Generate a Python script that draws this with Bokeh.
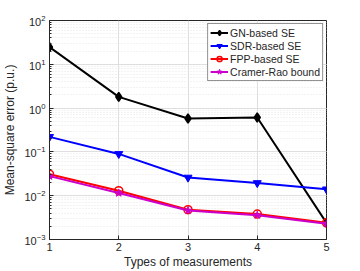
from bokeh.plotting import figure
from bokeh.models import FixedTicker, Legend, LegendItem
from bokeh.embed import file_html
from bokeh.resources import INLINE

x = [1, 2, 3, 4, 5]
gn = [24.6, 1.8, 0.58, 0.61, 0.0024]
sdr = [0.22, 0.09, 0.026, 0.0195, 0.014]
fpp = [0.031, 0.013, 0.0048, 0.0038, 0.0024]
crb = [0.028, 0.0115, 0.0046, 0.0036, 0.0023]
names = ["GN-based SE", "SDR-based SE", "FPP-based SE", "Cramer-Rao bound"]

FONT = "Liberation Sans"

p = figure(width=360, height=271, y_axis_type="log", x_range=(1, 5), y_range=(1e-3, 1e2),
           output_backend="svg", toolbar_location=None,
           min_border_left=47, min_border_right=34, min_border_top=20, min_border_bottom=31)
p.background_fill_color = "white"
p.outline_line_color = "#262626"
p.outline_line_width = 1

p.xaxis.ticker = FixedTicker(ticks=x)
p.xaxis.axis_label = "Types of measurements"
p.yaxis.axis_label = "Mean-square error (p.u.)"
for ax in [p.xaxis[0], p.yaxis[0]]:
    ax.axis_label_text_font = FONT
    ax.axis_label_text_font_style = "normal"
    ax.axis_label_text_font_size = "12px"
    ax.major_label_text_font = FONT
    ax.major_label_text_font_size = "11px"
    ax.major_label_text_color = "#262626"
    ax.axis_label_text_color = "#262626"
    ax.axis_line_color = "#262626"
    ax.major_tick_in = 4
    ax.major_tick_out = 0
    ax.minor_tick_in = 2
    ax.minor_tick_out = 0
    ax.major_tick_line_color = "#262626"
    ax.minor_tick_line_color = "#262626"
p.xaxis.axis_label_standoff = 1
p.yaxis.axis_label_standoff = 4
p.xaxis.major_label_standoff = 3
p.yaxis.major_label_standoff = 4

p.xgrid.grid_line_color = "#dedede"
p.ygrid.grid_line_color = "#dedede"
p.ygrid.minor_grid_line_color = "#e6e6e6"
p.ygrid.minor_grid_line_dash = "1 2"

r1 = p.line(x, gn, line_color="black", line_width=2)
m1 = p.scatter(x, gn, marker="diamond", size=9, line_color="black", fill_color="black", line_width=1.5)
r2 = p.line(x, sdr, line_color="blue", line_width=2)
m2 = p.scatter(x, sdr, marker="inverted_triangle", size=8, line_color="blue", fill_color="blue")
r3 = p.line(x, fpp, line_color="red", line_width=2)
m3 = p.scatter(x, fpp, marker="circle", size=8, line_color="red", fill_color=None, line_width=1.5)
r4 = p.line(x, crb, line_color="#cc00cc", line_width=2)
m4 = p.scatter(x, crb, marker="star", size=8, line_color="#cc00cc", fill_color="#cc00cc", line_width=1)

legend = Legend(items=[LegendItem(label=names[0], renderers=[r1, m1]),
                       LegendItem(label=names[1], renderers=[r2, m2]),
                       LegendItem(label=names[2], renderers=[r3, m3]),
                       LegendItem(label=names[3], renderers=[r4, m4])],
                location="top_right")
legend.margin = 3
legend.padding = 2
legend.spacing = 0
legend.glyph_width = 18
legend.glyph_height = 13
legend.label_height = 13
legend.label_standoff = 2
legend.label_text_font = FONT
legend.label_text_font_size = "10.5px"
legend.label_text_color = "#262626"
legend.border_line_color = "#262626"
legend.border_line_width = 1
legend.background_fill_alpha = 1
p.add_layout(legend, "center")

open("out.html", "w").write(file_html(p, INLINE))
